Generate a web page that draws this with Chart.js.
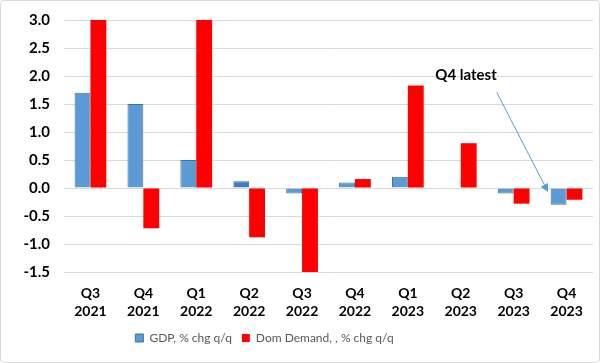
<!DOCTYPE html>
<html>
<head>
<meta charset="utf-8">
<script src="https://cdn.jsdelivr.net/npm/chart.js@4/dist/chart.umd.min.js"></script>
<style>
html,body{margin:0;padding:0;background:#fff;}
canvas{display:block;}
</style>
</head>
<body>
<canvas id="c" width="600" height="363"></canvas>
<script>
const categories = [["Q3","2021"],["Q4","2021"],["Q1","2022"],["Q2","2022"],["Q3","2022"],["Q4","2022"],["Q1","2023"],["Q2","2023"],["Q3","2023"],["Q4","2023"]];
const gdp = [1.7, 1.5, 0.5, 0.12, -0.1, 0.1, 0.2, 0.0, -0.1, -0.3];
const domDemand = [3.0, -0.72, 3.0, -0.88, -1.5, 0.16, 1.83, 0.8, -0.28, -0.21];
const seriesNames = ["GDP, % chg q/q", "Dom Demand, , % chg q/q"];
const yMin = -1.5, yMax = 3.0, yStep = 0.5;
const annotationText = "Q4 latest";
const annotationTextPos = [7.1, 2.02];   // [category index, value]
const arrowFrom = [7.68, 1.71];
const arrowTo = [8.65, -0.07];

const FONT = "Lato";

const bgPlugin = {
  id: 'bg',
  beforeDraw(chart) {
    const ctx = chart.ctx;
    ctx.save();
    ctx.fillStyle = '#fff';
    ctx.fillRect(0, 0, chart.width, chart.height);
    ctx.restore();
  },
  afterLayout(chart) {
    // Excel places the legend slightly left of centre
    if (chart.legend) { chart.legend.left -= 32; chart.legend.right -= 32; }
  },
  afterDraw(chart) {
    const ctx = chart.ctx;
    ctx.save();
    ctx.strokeStyle = '#d9d9d9';
    ctx.lineWidth = 1;
    const r = 3;
    const x0 = 0.5, y0 = 0.5, x1 = chart.width - 0.5, y1 = chart.height - 0.5;
    ctx.beginPath();
    ctx.moveTo(x0 + r, y0);
    ctx.lineTo(x1 - r, y0); ctx.arcTo(x1, y0, x1, y0 + r, r);
    ctx.lineTo(x1, y1 - r); ctx.arcTo(x1, y1, x1 - r, y1, r);
    ctx.lineTo(x0 + r, y1); ctx.arcTo(x0, y1, x0, y1 - r, r);
    ctx.lineTo(x0, y0 + r); ctx.arcTo(x0, y0, x0 + r, y0, r);
    ctx.stroke();
    ctx.restore();
  }
};

const annotPlugin = {
  id: 'annot',
  afterDatasetsDraw(chart) {
    const ctx = chart.ctx;
    const xs = chart.scales.x, ys = chart.scales.y;
    const px = p => [xs.getPixelForValue(p[0]), ys.getPixelForValue(p[1])];
    const [tx, ty] = px(annotationTextPos);
    const [ax, ay] = px(arrowFrom);
    const [bx, by] = px(arrowTo);
    ctx.save();
    ctx.font = "bold 15px " + FONT;
    ctx.fillStyle = '#000';
    ctx.textAlign = 'center';
    ctx.textBaseline = 'middle';
    ctx.fillText(annotationText, tx, ty);
    ctx.strokeStyle = '#5B9BD5';
    ctx.fillStyle = '#5B9BD5';
    ctx.lineWidth = 1;
    const ang = Math.atan2(by - ay, bx - ax);
    const hl = 8, hw = 4;
    const lx = bx - hl * Math.cos(ang), ly = by - hl * Math.sin(ang);
    ctx.beginPath();
    ctx.moveTo(ax, ay);
    ctx.lineTo(lx, ly);
    ctx.stroke();
    ctx.beginPath();
    ctx.moveTo(bx, by);
    ctx.lineTo(lx + hw * Math.sin(ang), ly - hw * Math.cos(ang));
    ctx.lineTo(lx - hw * Math.sin(ang), ly + hw * Math.cos(ang));
    ctx.closePath();
    ctx.fill();
    ctx.restore();
  }
};

const gdpFill = gdp.map((v, i) => i === 3 ? '#3B7DC4' : '#5B9BD5');

new Chart(document.getElementById('c'), {
  type: 'bar',
  data: {
    labels: categories,
    datasets: [
      { label: seriesNames[0], data: gdp, backgroundColor: gdpFill, borderColor: '#41719C', borderWidth: 1 },
      { label: seriesNames[1], data: domDemand, backgroundColor: '#FF0000', borderColor: '#FF0000', borderWidth: 0 }
    ]
  },
  options: {
    responsive: false,
    animation: false,
    devicePixelRatio: 1,
    categoryPercentage: 0.6,
    barPercentage: 1.0,
    layout: { padding: { left: 0, right: 7, top: 20, bottom: 9 } },
    plugins: {
      legend: {
        position: 'bottom',
        labels: {
          boxWidth: 8, boxHeight: 8, padding: 10,
          color: '#595959',
          font: { family: FONT, size: 12 },
          generateLabels(chart) {
            return chart.data.datasets.map((d, i) => ({
              text: d.label, fillStyle: i === 0 ? '#5B9BD5' : '#FF0000',
              strokeStyle: i === 0 ? '#41719C' : '#FF0000', lineWidth: i === 0 ? 1 : 0,
              datasetIndex: i, hidden: false, fontColor: '#595959'
            }));
          }
        }
      },
      tooltip: { enabled: false }
    },
    scales: {
      x: {
        grid: { display: false },
        border: { display: false },
        ticks: {
          color: '#000', padding: 4, maxRotation: 0, autoSkip: false,
          font: { family: FONT, size: 14, weight: 'bold', lineHeight: 1.3 }
        },
        afterFit(s) { s.height = 50; }
      },
      y: {
        min: yMin, max: yMax,
        grid: { color: '#d9d9d9', drawTicks: true, tickLength: 11, tickColor: 'rgba(0,0,0,0)' },
        border: { display: false },
        ticks: {
          stepSize: yStep, color: '#000', padding: 3,
          font: { family: FONT, size: 15, weight: 'bold' },
          callback: v => Number(v).toFixed(1)
        },
        afterFit(s) { s.width = 64; }
      }
    }
  },
  plugins: [bgPlugin, annotPlugin]
});
</script>
</body>
</html>
